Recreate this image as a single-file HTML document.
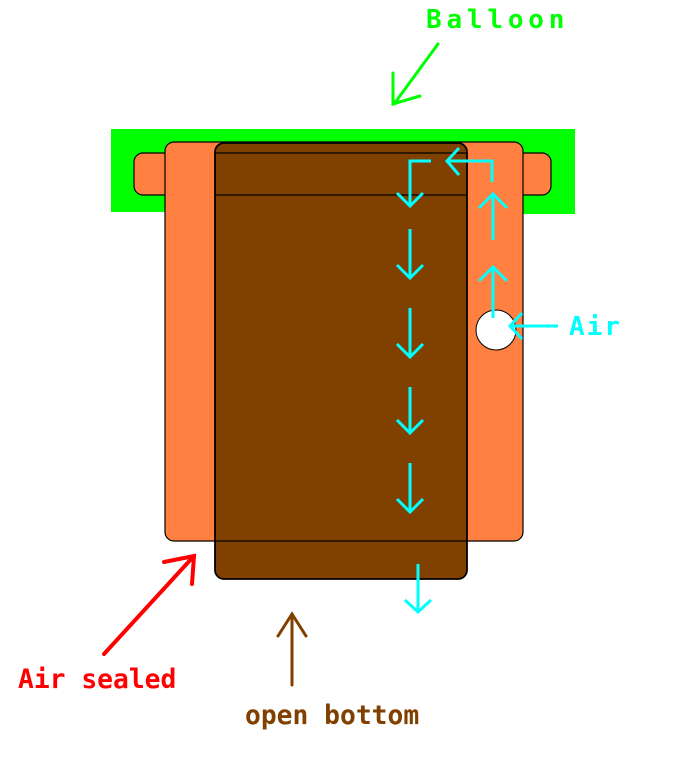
<!DOCTYPE html>
<html><head><style>html,body{margin:0;padding:0;background:#fff}svg{display:block}</style></head>
<body>
<svg width="695" height="768" viewBox="0 0 695 768" xmlns="http://www.w3.org/2000/svg" font-family="'DejaVu Sans Mono','Liberation Mono',monospace">
<rect x="111" y="129" width="464" height="83" fill="#00ff00"/>
<rect x="491" y="205" width="84" height="9" fill="#00ff00"/>
<rect x="134" y="153" width="417" height="42" rx="9" fill="#ff8040" stroke="#000" stroke-width="1.2"/>
<rect x="165" y="142" width="358" height="399" rx="9" fill="#ff8040" stroke="#000" stroke-width="1.2"/>
<rect x="215" y="143" width="252" height="436" rx="9" fill="#804000" stroke="#000" stroke-width="1.8"/>
<line x1="215" y1="195" x2="467" y2="195" stroke="#000" stroke-width="1.2"/>
<line x1="215" y1="541" x2="467" y2="541" stroke="#000" stroke-width="1.2"/>
<line x1="215" y1="153" x2="467" y2="153" stroke="#000" stroke-width="1.2"/>
<circle cx="496" cy="330" r="20" fill="#fff" stroke="#000" stroke-width="1"/>
<g stroke="#00ffff" stroke-width="3" fill="none">
<path d="M431 161 H410 V206 M397 193 L410 206 L423 193"/>
<path d="M410 229 V278 M397 265 L410 278 L423 265"/>
<path d="M410 308 V357 M397 344 L410 357 L423 344"/>
<path d="M410 387 V433 M397 420 L410 433 L423 420"/>
<path d="M410 463 V512 M397 499 L410 512 L423 499"/>
<path d="M418 564 V612 M405 600 L418 612 L431 600"/>
<path d="M492 182 V161 H447 M459 148 L447 161 L459 175"/>
<path d="M493 240 V194 M479 208 L493 194 L507 208"/>
<path d="M493 318 V267 M479 281 L493 267 L507 281"/>
<path d="M558 326 H510 M522 313 L510 326 L522 339"/>
</g>
<g stroke="#00ff00" stroke-width="3" fill="none" stroke-linecap="round">
<path d="M438 44 L394 104 M393 73 V104 L420 96"/>
</g>
<g stroke="#ff0000" stroke-width="4" fill="none" stroke-linecap="round">
<path d="M104 654 L193 557 M164 562 L194 556 L192 584"/>
</g>
<g stroke="#804000" stroke-width="3" fill="none" stroke-linecap="round">
<path d="M292 685 V614 M278 636 L292 614 L306 636"/>
</g>
<text x="426" y="28" font-size="26" font-weight="bold" letter-spacing="4.8" fill="#00ff00">Balloon</text>
<text x="569" y="335" font-size="26" font-weight="bold" letter-spacing="2" fill="#00ffff">Air</text>
<text x="18" y="688" font-size="26.3" font-weight="bold" fill="#ff0000">Air sealed</text>
<text x="245" y="724" font-size="26.3" font-weight="bold" fill="#804000">open bottom</text>
</svg>
</body></html>
